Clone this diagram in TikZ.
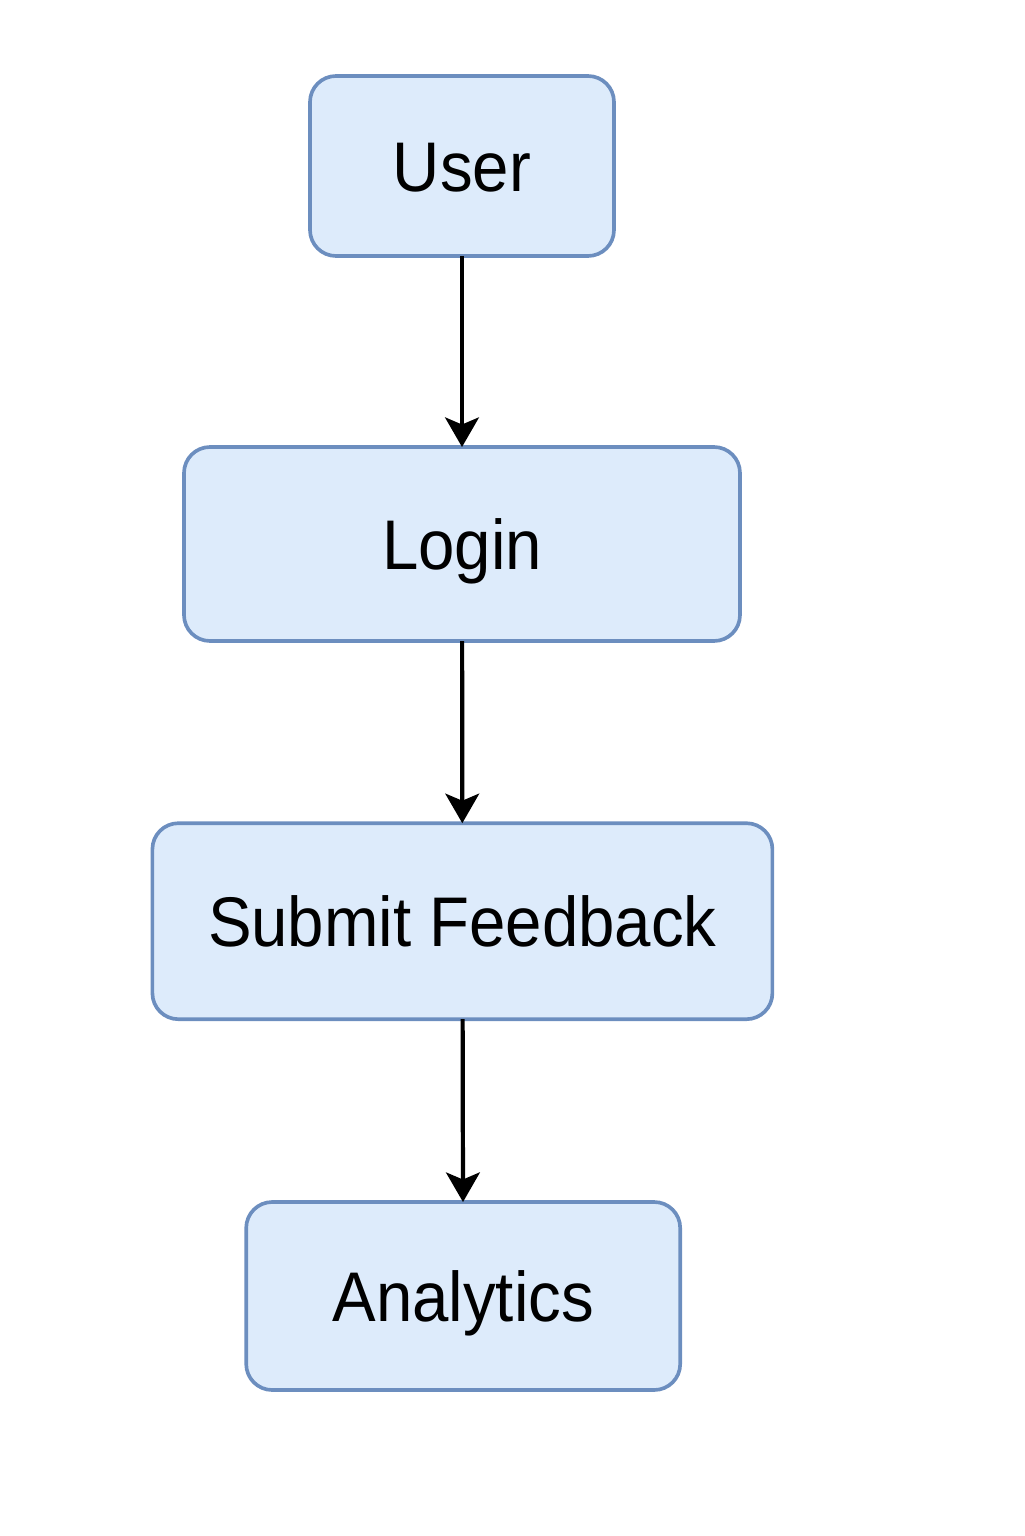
\documentclass[tikz,border=0pt]{standalone}
\usepackage{fontspec}
\setmainfont{Liberation Sans}[FakeStretch=0.93]
\usetikzlibrary{arrows.meta}
\definecolor{kasten}{HTML}{DDEBFB}
\definecolor{rand}{HTML}{6C8EBF}
\tikzset{
	box/.style={draw=rand, fill=kasten, line width=2.6pt, rounded corners=0.65cm, inner sep=0pt, outer sep=0pt, text height=36pt, text depth=0pt, font=\fontsize{50}{60}\selectfont},
	pfeil/.style={line width=3pt, -{Stealth[length=21pt, width=24pt, inset=5pt]}}
}
\begin{document}
\begin{tikzpicture}
	
	\useasboundingbox (0,0) rectangle (25.6,-38.4);
	
	%Kästen
	\node[box, minimum width=7.6cm, minimum height=4.5cm] (User) at (11.55,-4.15) {User};
	\node[box, minimum width=13.9cm, minimum height=4.85cm] (Login) at (11.55,-13.6) {Login};
	\node[box, minimum width=15.5cm, minimum height=4.9cm] (Feedback) at (11.56,-23.03) {Submit Feedback};
	\node[box, minimum width=10.85cm, minimum height=4.7cm] (Analytics) at (11.58,-32.4) {Analytics};
	
	%Pfeile
	\draw[pfeil] (User) -- (Login);
	\draw[pfeil] (Login) -- (Feedback);
	\draw[pfeil] (Feedback) -- (Analytics);
	
\end{tikzpicture}
\end{document}
